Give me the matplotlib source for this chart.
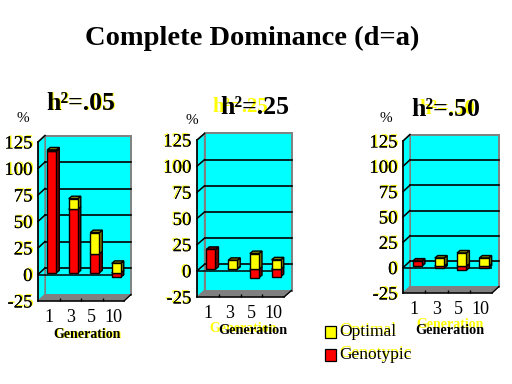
import matplotlib
matplotlib.use("Agg")
import matplotlib.pyplot as plt
import matplotlib.patheffects as pe
from matplotlib.patches import Polygon, Rectangle

plt.rcParams['font.family'] = ['Liberation Serif', 'DejaVu Serif']

generations = ['1', '3', '5', '10']
y_ticks = [-25, 0, 25, 50, 75, 100, 125]
panel_titles = ['h²=.05', 'h²=.25', 'h²=.50']

genotypic_05 = [115, 60, 18, -4]
optimal_05 = [1, 10, 20, 9]
genotypic_25 = [19, 0.5, -8, -7]
optimal_25 = [0, 8, 15, 9]
genotypic_50 = [5, -2, -4, -2]
optimal_50 = [0, 8, 13, 8]

W, H = 512, 384
CYAN, GRAY, RED, YEL = '#00FFFF', '#808080', '#FF0000', '#FFFF00'
DRED, DYEL = '#800000', '#808000'

fig = plt.figure(figsize=(W / 100, H / 100), dpi=100, facecolor='white')


def put(x, y, s, color='black', size=10, weight='normal', ha='center', z=5):
    return fig.text(x / W, 1 - y / H, s, color=color, fontsize=size, fontweight=weight,
                    ha=ha, va='center', zorder=z)


def panel(left, right, top, bottom, depth_x, depth_y, gen, opt, ghost):
    ax = fig.add_axes([left / W, 1 - bottom / H, (right - left) / W, (bottom - top) / H])
    ax.set_xlim(0, 4)
    ax.set_ylim(-25, 125)
    ax.patch.set_visible(False)
    ddx = depth_x / (right - left) * 4
    ddy = depth_y / (bottom - top) * 150

    def add(points, face, edge='black', lw=1.0, z=2):
        ax.add_patch(Polygon(points, closed=True, facecolor=face, edgecolor=edge,
                             linewidth=lw, zorder=z, clip_on=False))

    # walls
    add([(ddx, -25 + ddy), (4 + ddx, -25 + ddy), (4 + ddx, 125 + ddy), (ddx, 125 + ddy)],
        CYAN, edge=GRAY, lw=1.4, z=1)
    add([(0, -25), (ddx, -25 + ddy), (ddx, 125 + ddy), (0, 125)], CYAN, edge=GRAY, lw=1, z=1)
    add([(0, -25), (4, -25), (4 + ddx, -25 + ddy), (ddx, -25 + ddy)], GRAY, edge=GRAY, lw=0.5, z=1)

    # gridlines on the back wall and wall diagonals
    for v in y_ticks:
        if v == -25:
            ax.plot([4, 4 + ddx], [v, v + ddy], color='black', lw=1, zorder=1.5, clip_on=False)
            continue
        if v < 125:
            ax.plot([ddx, 4 + ddx], [v + ddy, v + ddy], color='black', lw=1.2, zorder=1.5,
                    clip_on=False)
        ax.plot([0, ddx], [v, v + ddy], color='black', lw=1.1, zorder=1.5, clip_on=False)
    ax.plot([0, 4], [0, 0], color='black', lw=1.1, zorder=1.6)

    # bars
    bar_w = 0.42
    bar_x = 0.14
    bar_y = 1.5
    side_x = 3.0 / (right - left) * 4
    side_y = 2.5 / (bottom - top) * 150

    def box(i, y0, y1, face, side):
        x0 = i + 0.5 + bar_x - bar_w / 2
        x1 = x0 + bar_w
        y0 += bar_y
        y1 += bar_y
        lo, hi = min(y0, y1), max(y0, y1)
        add([(x1, lo), (x1 + side_x, lo + side_y), (x1 + side_x, hi + side_y), (x1, hi)],
            side, z=3 + i * 0.1)
        add([(x0, hi), (x1, hi), (x1 + side_x, hi + side_y), (x0 + side_x, hi + side_y)],
            side, z=3 + i * 0.1)
        ax.add_patch(Rectangle((x0, lo), bar_w, hi - lo, facecolor=face, edgecolor='black',
                               linewidth=1.0, zorder=3.05 + i * 0.1, clip_on=False))

    for i, (g, o) in enumerate(zip(gen, opt)):
        if g < 0:
            box(i, 0, g, RED, DRED)
            if o:
                box(i, 0, o, YEL, DYEL)
        else:
            box(i, 0, g, RED, DRED)
            if o:
                box(i, g, g + o, YEL, DYEL)

    # axes
    for s in ('top', 'right'):
        ax.spines[s].set_visible(False)
    ax.spines['left'].set_linewidth(1.2)
    ax.spines['bottom'].set_linewidth(1.1)
    ax.spines['left'].set_zorder(6)
    ax.spines['bottom'].set_zorder(6)
    ax.set_yticks(y_ticks)
    ax.set_yticklabels([str(v) for v in y_ticks], fontsize=13.5)
    ax.tick_params(axis='y', length=0, pad=4)
    ax.set_xticks([0.5, 1.5, 2.5, 3.5])
    ax.set_xticklabels(generations, fontsize=13)
    ax.tick_params(axis='x', length=0, pad=6)
    ax.set_xticks([1, 2, 3], minor=True)
    ax.tick_params(axis='x', which='minor', length=2.5, direction='in', width=1)
    for lab in ax.get_yticklabels():
        lab.set_path_effects([pe.withSimplePatchShadow(offset=ghost, shadow_rgbFace=YEL,
                                                       alpha=1), pe.Normal()])
    return ax


panel(38, 124, 142, 301, 7, 6.5, genotypic_05, optimal_05, (1.0, 0.7))
panel(197, 284, 140, 297, 7.5, 6.5, genotypic_25, optimal_25, (-1.0, 0.7))
panel(403, 492, 141, 293, 7, 6.5, genotypic_50, optimal_50, (1.0, 0.7))

put(252, 38, 'Complete Dominance (d=a)', size=20.5, weight='bold')

# panel headings with their yellow ghosts
put(82, 103, panel_titles[0], color=YEL, size=18.5, weight='bold', z=4)
put(81, 103, panel_titles[0], size=18.5, weight='bold')
put(240, 107, panel_titles[1], color=YEL, size=15, weight='bold', z=4)
put(255, 107, panel_titles[1], size=18.5, weight='bold')
put(447, 109, panel_titles[2], color=YEL, size=15, weight='bold', z=4)
put(446, 109, panel_titles[2], size=18.5, weight='bold')

put(23, 118, '%', size=11)
put(192, 120, '%', size=11)
put(386, 118, '%', size=11)

put(88, 335, 'Generation', color=YEL, size=10, weight='bold', z=4)
put(87, 335, 'Generation', size=10, weight='bold')
put(243, 328, 'Generation', color=YEL, size=10, weight='bold', z=4)
put(253, 331, 'Generation', size=10.3, weight='bold')
put(450, 325, 'Generation', color=YEL, size=10, weight='bold', z=4)
put(450, 330, 'Generation', size=10.3, weight='bold')

# legend
for y, c in ((332, YEL), (355, RED)):
    fig.add_artist(Rectangle((325 / W, 1 - (y + 6) / H), 11 / W, 12 / H, facecolor=c,
                             edgecolor='black', linewidth=0.9, transform=fig.transFigure))
put(339, 330, 'Optimal', color=YEL, size=12.5, ha='left', z=4)
put(339, 332, 'Optimal', size=12.5, ha='left')
put(339, 353, 'Genotypic', color=YEL, size=12.5, ha='left', z=4)
put(339, 355, 'Genotypic', size=12.5, ha='left')

fig.savefig('out.png', dpi=100, facecolor='white')
